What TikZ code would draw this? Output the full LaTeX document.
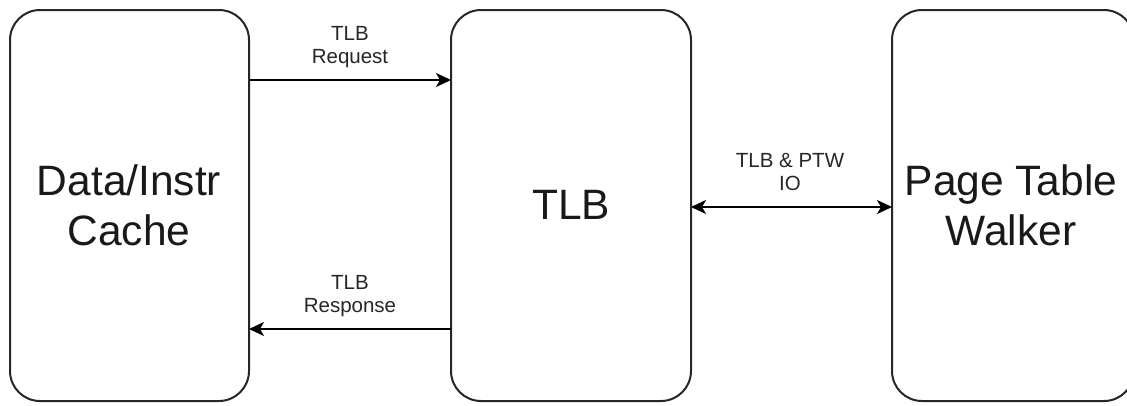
\documentclass[tikz,border=0pt]{standalone}
\usepackage{fontspec}
\setmainfont{Liberation Sans}
\usetikzlibrary{arrows.meta}
\begin{document}
\begin{tikzpicture}[x=1pt,y=-1pt,
  block/.style={draw=black!85,line width=2pt,rounded corners=30pt},
  bigtext/.style={font=\fontsize{42.5}{50}\selectfont,align=center,text=black!90},
  lbl/.style={font=\fontsize{20.5}{23.5}\selectfont,align=center,text=black!85},
  hd/.tip={Stealth[length=15pt,width=14pt,inset=4pt]},
  link/.style={line width=1.8pt,-hd}]
\useasboundingbox (0,0) rectangle (1127,405);
\begin{scope}
\clip (0,0) rectangle (1127,405);
\draw[block] (10,10) rectangle (249,401);
\draw[block] (451,10) rectangle (691,401);
\draw[block] (892,10) rectangle (1134,401);
\end{scope}
\coordinate (cR) at (249,80);
\coordinate (tR) at (451,80);
\coordinate (tS) at (451,329);
\coordinate (cS) at (249,329);
\coordinate (tW) at (691,207);
\coordinate (wW) at (892,207);
\node[bigtext] (cache) at (129,205) {Data/Instr\\Cache};
\node[bigtext] (tlb) at (571,205) {TLB};
\node[bigtext] (ptw) at (1011,205) {Page Table\\Walker};
\draw[link] (cR) -- (tR);
\draw[link] (tS) -- (cS);
\draw[link,hd-hd] (tW) -- (wW);
\node[lbl] (req) at (350,47) {TLB\\Request};
\node[lbl] (resp) at (350,296) {TLB\\Response};
\node[lbl] (io) at (790,172) {TLB \& PTW\\IO};
\end{tikzpicture}
\end{document}
